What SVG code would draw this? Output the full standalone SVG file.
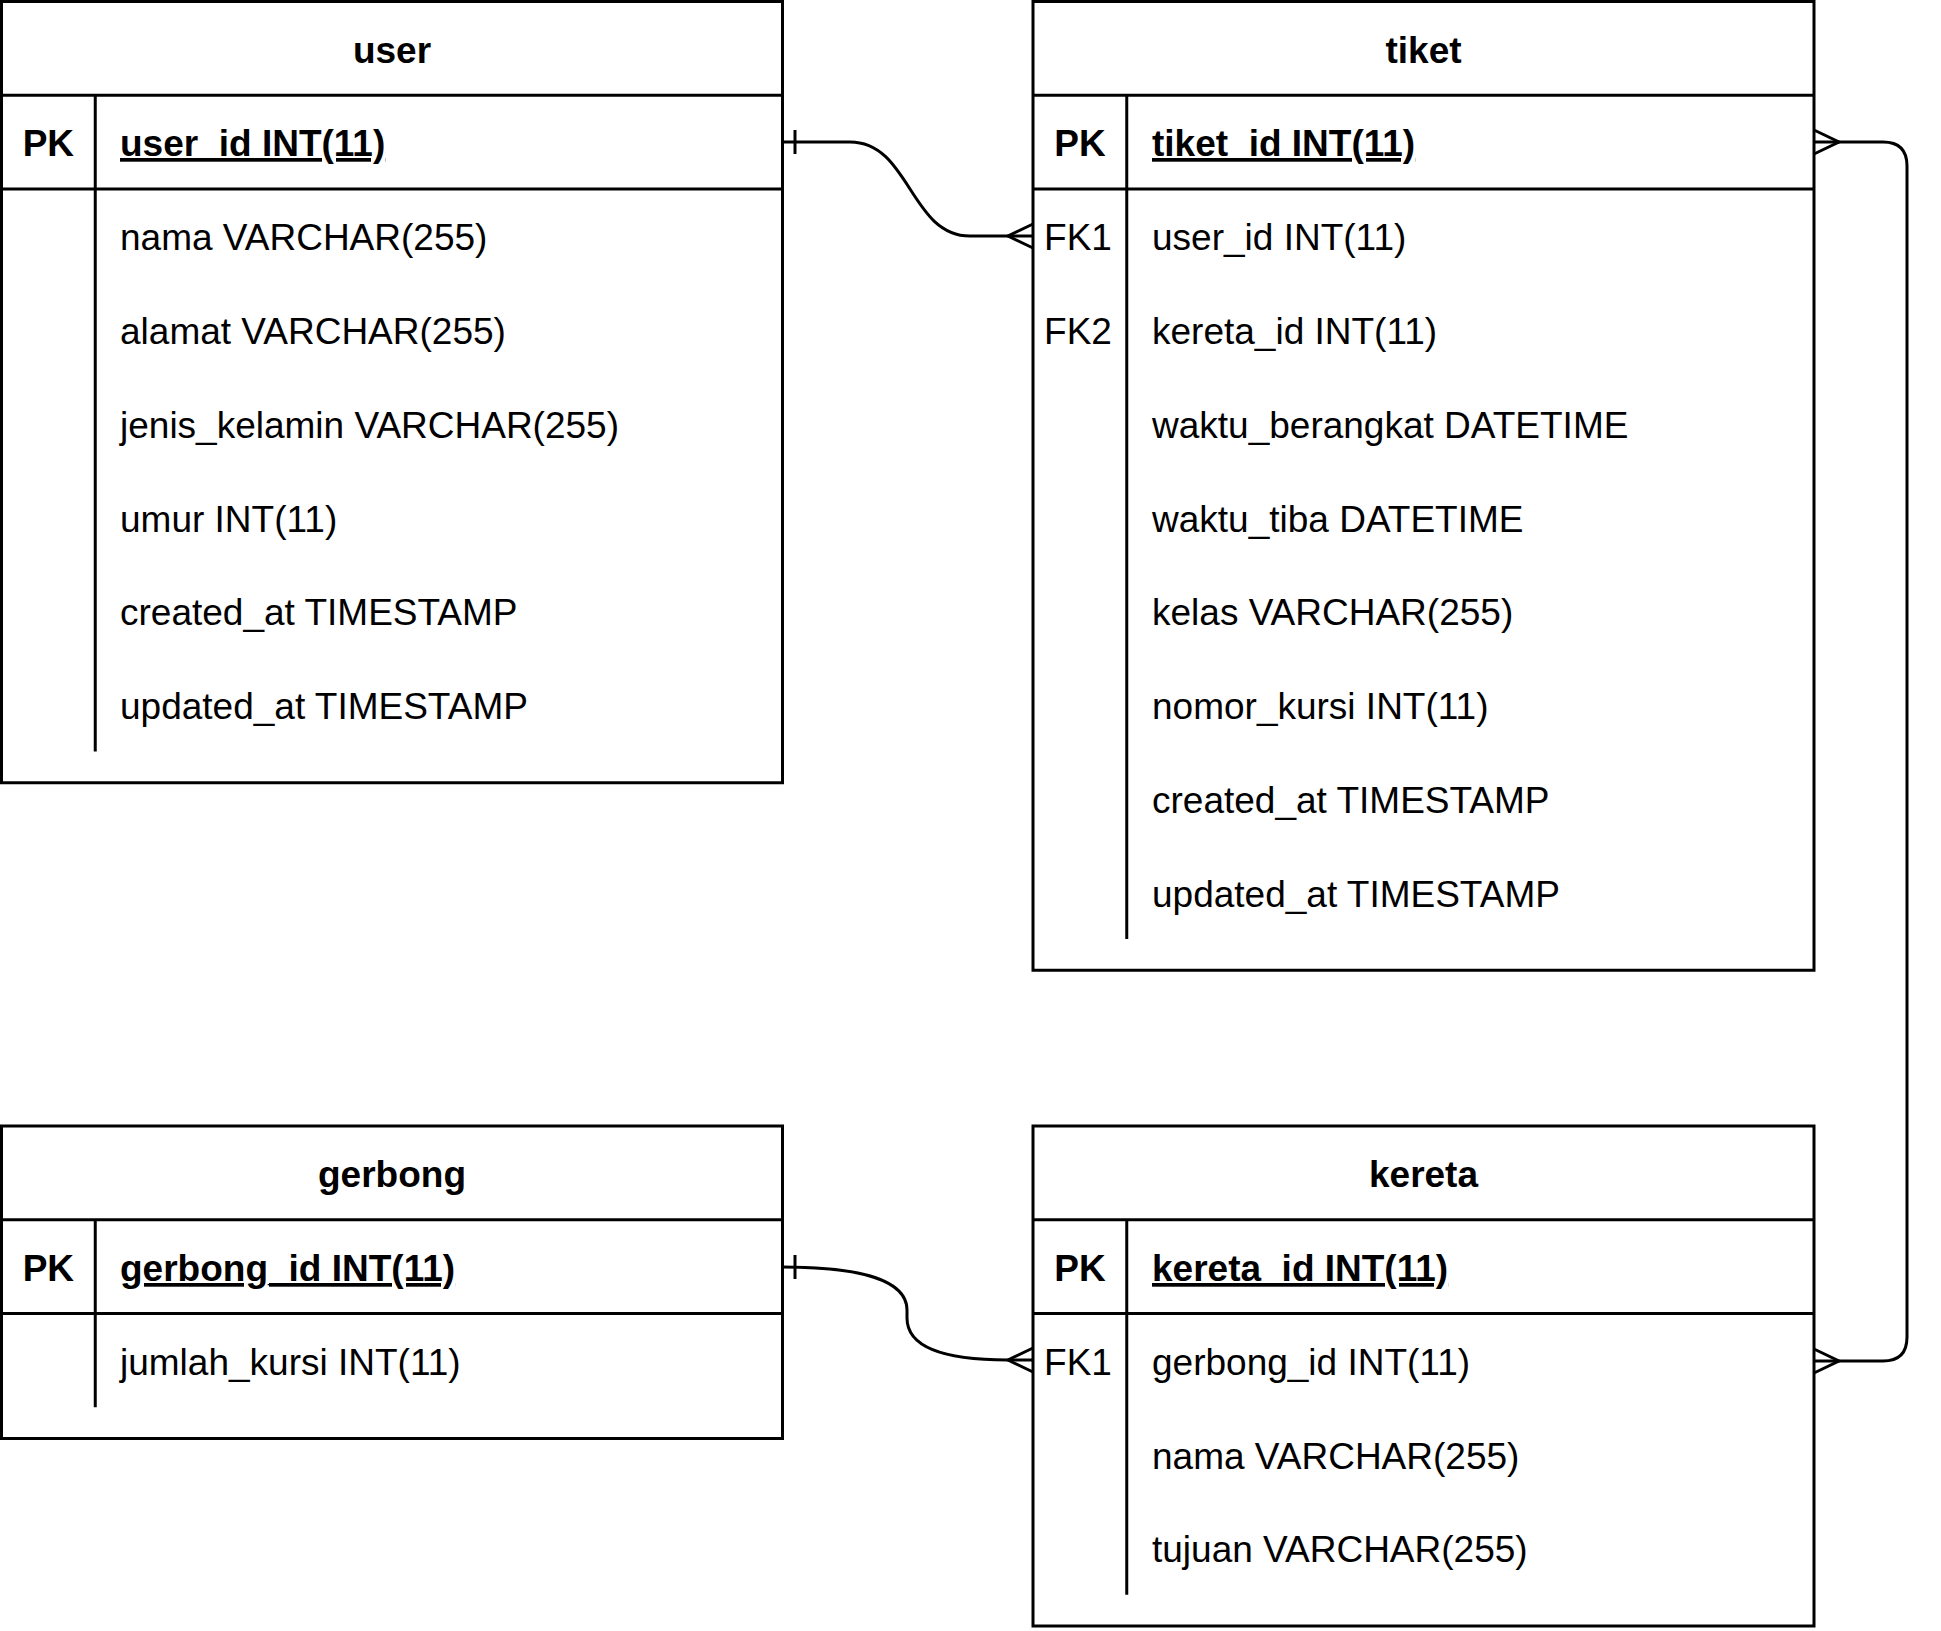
<svg xmlns="http://www.w3.org/2000/svg" width="1941" height="1631" viewBox="0 0 1941 1631">
<style>
.box{fill:#fff;stroke:#000;stroke-width:3}
.ln{stroke:#000;stroke-width:3;fill:none}
.t{font-family:"Liberation Sans",Arial,Helvetica,sans-serif;font-size:37px;fill:#000}
.h{font-weight:bold;text-anchor:middle}
.k{text-anchor:middle}
.b{font-weight:bold}
.u{font-weight:bold;text-decoration:underline;text-decoration-skip-ink:none;text-underline-offset:6px}
.c{stroke:#000;stroke-width:3;fill:none}
</style>
<rect width="1941" height="1631" fill="#fff"/>
<g id="user">
<rect class="box" x="1.5" y="1.5" width="781" height="781.25"/>
<line class="ln" x1="1.5" y1="95.25" x2="782.5" y2="95.25"/>
<line class="ln" x1="1.5" y1="189" x2="782.5" y2="189"/>
<line class="ln" x1="95.25" y1="95.25" x2="95.25" y2="751.5"/>
<text class="t h" x="392" y="62.5">user</text>
<text class="t h" x="48.4" y="156">PK</text>
<text class="t u" x="120" y="156">user_id INT(11)</text>
<text class="t" x="120" y="250">nama VARCHAR(255)</text>
<text class="t" x="120" y="344">alamat VARCHAR(255)</text>
<text class="t" x="120" y="437.5">jenis_kelamin VARCHAR(255)</text>
<text class="t" x="120" y="531.5">umur INT(11)</text>
<text class="t" x="120" y="625">created_at TIMESTAMP</text>
<text class="t" x="120" y="719">updated_at TIMESTAMP</text>
</g>
<g id="tiket">
<rect class="box" x="1033" y="1.5" width="781" height="968.75"/>
<line class="ln" x1="1033" y1="95.25" x2="1814" y2="95.25"/>
<line class="ln" x1="1033" y1="189" x2="1814" y2="189"/>
<line class="ln" x1="1126.75" y1="95.25" x2="1126.75" y2="939"/>
<text class="t h" x="1423.5" y="62.5">tiket</text>
<text class="t h" x="1080" y="156">PK</text>
<text class="t u" x="1152" y="156">tiket_id INT(11)</text>
<text class="t k" x="1078" y="250">FK1</text>
<text class="t" x="1152" y="250">user_id INT(11)</text>
<text class="t k" x="1078" y="344">FK2</text>
<text class="t" x="1152" y="344">kereta_id INT(11)</text>
<text class="t" x="1152" y="437.5">waktu_berangkat DATETIME</text>
<text class="t" x="1152" y="531.5">waktu_tiba DATETIME</text>
<text class="t" x="1152" y="625">kelas VARCHAR(255)</text>
<text class="t" x="1152" y="719">nomor_kursi INT(11)</text>
<text class="t" x="1152" y="812.5">created_at TIMESTAMP</text>
<text class="t" x="1152" y="906.5">updated_at TIMESTAMP</text>
</g>
<g id="gerbong">
<rect class="box" x="1.5" y="1126" width="781" height="312.5"/>
<line class="ln" x1="1.5" y1="1219.75" x2="782.5" y2="1219.75"/>
<line class="ln" x1="1.5" y1="1313.5" x2="782.5" y2="1313.5"/>
<line class="ln" x1="95.25" y1="1219.75" x2="95.25" y2="1407.25"/>
<text class="t h" x="392" y="1187">gerbong</text>
<text class="t h" x="48.4" y="1281">PK</text>
<text class="t u" x="120" y="1281">gerbong_id INT(11)</text>
<text class="t" x="120" y="1374.5">jumlah_kursi INT(11)</text>
</g>
<g id="kereta">
<rect class="box" x="1033" y="1126" width="781" height="500"/>
<line class="ln" x1="1033" y1="1219.75" x2="1814" y2="1219.75"/>
<line class="ln" x1="1033" y1="1313.5" x2="1814" y2="1313.5"/>
<line class="ln" x1="1126.75" y1="1219.75" x2="1126.75" y2="1594.75"/>
<text class="t h" x="1423.5" y="1187">kereta</text>
<text class="t h" x="1080" y="1281">PK</text>
<text class="t u" x="1152" y="1281">kereta_id INT(11)</text>
<text class="t k" x="1078" y="1374.5">FK1</text>
<text class="t" x="1152" y="1374.5">gerbong_id INT(11)</text>
<text class="t" x="1152" y="1468.5">nama VARCHAR(255)</text>
<text class="t" x="1152" y="1562">tujuan VARCHAR(255)</text>
</g>
<g id="connectors">
<path class="c" d="M782.5 142 H850 C910 142 910 236 970 236 H1033"/>
<line class="c" x1="795" y1="130" x2="795" y2="154"/>
<path class="c" d="M1033 224 L1008 236 L1033 248"/>
<path class="c" d="M782.5 1267 C860 1267 907 1280 907 1310 V1318 C907 1350 950 1360 1008 1360 H1033"/>
<line class="c" x1="795" y1="1255" x2="795" y2="1279"/>
<path class="c" d="M1033 1348 L1008 1360 L1033 1372"/>
<path class="c" d="M1814 142 H1883 Q1907 142 1907 166 V1337 Q1907 1361 1883 1361 H1814"/>
<path class="c" d="M1814 130 L1839 142 L1814 154"/>
<path class="c" d="M1814 1349 L1839 1361 L1814 1373"/>
</g>
</svg>
